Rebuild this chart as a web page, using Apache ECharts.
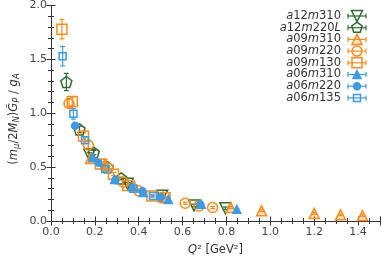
<!DOCTYPE html>
<html><head><meta charset="utf-8">
<script src="https://cdn.jsdelivr.net/npm/echarts@6/dist/echarts.min.js"></script>
<style>html,body{margin:0;padding:0;background:#fff}#c{width:382px;height:261px}</style>
</head><body><div id="c"></div>
<script>
// [Q2, value, error]
const a12m310  = [[0.175,0.615,0.02],[0.35,0.345,0.012],[0.507,0.235,0.01],[0.652,0.145,0.012],[0.795,0.118,0.012]];
const a12m220L = [[0.07,1.29,0.08],[0.13,0.85,0.03],[0.195,0.635,0.02],[0.258,0.50,0.015],[0.32,0.395,0.012]];
const a09m310  = [[0.18,0.58,0.03],[0.247,0.53,0.04],[0.38,0.32,0.015],[0.51,0.225,0.012],[0.82,0.125,0.01],[0.96,0.095,0.008],[1.2,0.07,0.008],[1.32,0.058,0.008],[1.42,0.05,0.008]];
const a09m220  = [[0.082,1.09,0.04],[0.17,0.705,0.03],[0.26,0.49,0.02],[0.33,0.36,0.015],[0.40,0.28,0.012],[0.612,0.165,0.01],[0.675,0.14,0.01],[0.737,0.125,0.01]];
const a09m130  = [[0.05,1.78,0.09],[0.097,1.11,0.04],[0.148,0.79,0.03],[0.225,0.53,0.02],[0.285,0.435,0.015],[0.35,0.33,0.012],[0.46,0.233,0.01],[0.52,0.215,0.01]];
const a06m310  = [[0.19,0.59,0.02],[0.29,0.385,0.012],[0.37,0.32,0.01],[0.42,0.265,0.01],[0.535,0.2,0.008],[0.685,0.155,0.008],[0.847,0.108,0.008]];
const a06m220  = [[0.11,0.885,0.02],[0.216,0.54,0.015],[0.293,0.378,0.012],[0.417,0.275,0.01],[0.50,0.22,0.008],[0.68,0.15,0.008]];
const a06m135  = [[0.053,1.53,0.09],[0.102,0.995,0.05],[0.155,0.75,0.03],[0.247,0.483,0.02],[0.376,0.30,0.012],[0.465,0.232,0.01]];

const names = ['a12m310','a12m220L','a09m310','a09m220','a09m130','a06m310','a06m220','a06m135'];
const xTicks = [0,1.5,0.2];
const yTicks = [0,2,0.5];

const GREEN='#2f6b2f', ORANGE='#ff8c1a', BLUE='#3d9be6';
const PENT='path://M0,-1L0.951,-0.309L0.588,0.809L-0.588,0.809L-0.951,-0.309Z';
const styles = [
  {d:a12m310, c:GREEN, sym:'triangle', rot:180, size:11, fill:'rgba(255,255,255,0)'},
  {d:a12m220L, c:GREEN, sym:PENT, rot:0, size:11, fill:'rgba(255,255,255,0)'},
  {d:a09m310, c:ORANGE, sym:'triangle', rot:0, size:10, fill:'rgba(255,140,26,0.25)'},
  {d:a09m220, c:ORANGE, sym:'circle', rot:0, size:10, fill:'rgba(255,255,255,0)'},
  {d:a09m130, c:ORANGE, sym:'rect', rot:0, size:10, fill:'rgba(255,255,255,0)'},
  {d:a06m310, c:BLUE, sym:'triangle', rot:0, size:8, fill:BLUE},
  {d:a06m220, c:BLUE, sym:'circle', rot:0, size:7, fill:BLUE},
  {d:a06m135, c:BLUE, sym:'rect', rot:0, size:7, fill:'rgba(255,255,255,0)'}
];

function errSeries(d,c){
  return {type:'custom', data:d, encode:{x:0,y:1}, z:2, silent:true,
    renderItem:function(params,api){
      const x=api.value(0), y=api.value(1), e=api.value(2);
      const p1=api.coord([x,y+e]), p2=api.coord([x,y-e]);
      const w=2.5, st={stroke:c,lineWidth:1.2};
      return {type:'group',children:[
        {type:'line',shape:{x1:p1[0],y1:p1[1],x2:p2[0],y2:p2[1]},style:st},
        {type:'line',shape:{x1:p1[0]-w,y1:p1[1],x2:p1[0]+w,y2:p1[1]},style:st},
        {type:'line',shape:{x1:p2[0]-w,y1:p2[1],x2:p2[0]+w,y2:p2[1]},style:st}
      ]};
    }};
}
const series=[];
styles.forEach((s,i)=>{
  series.push(errSeries(s.d,s.c));
  series.push({type:'scatter', name:names[i], data:s.d.map(p=>[p[0],p[1]]), symbol:s.sym, symbolRotate:s.rot, symbolSize:s.size, z:3+i,
    itemStyle:{color:s.fill, borderColor:s.c, borderWidth:1.5, opacity:1}});
});

// legend drawn with graphic elements
const graphics=[];
const lx0=341, ly0=16, ldy=11.7, LF=11.5;
function legendLabel(n){
  let out='';
  for(const ch of n){ out += /[0-9]/.test(ch) ? '{r|'+ch+'}' : '{i|'+ch+'}'; }
  return out;
}
styles.forEach((s,i)=>{
  const y=ly0+i*ldy;
  graphics.push({type:'text', x:lx0, y:y, style:{text:legendLabel(names[i]), align:'right', verticalAlign:'middle',
    rich:{r:{fontFamily:'DejaVu Sans',fontSize:LF,fill:'#333'}, i:{fontFamily:'DejaVu Sans',fontStyle:'italic',fontSize:LF,fill:'#333'}}}});
  const st={stroke:s.c,lineWidth:1.2};
  graphics.push({type:'line', shape:{x1:348,y1:y,x2:366,y2:y}, style:st});
  graphics.push({type:'line', shape:{x1:348,y1:y-2.5,x2:348,y2:y+2.5}, style:st});
  graphics.push({type:'line', shape:{x1:366,y1:y-2.5,x2:366,y2:y+2.5}, style:st});
  const r=s.size/2, cx=357;
  const ms={fill:s.fill, stroke:s.c, lineWidth:1.5};
  if(s.sym==='circle') graphics.push({type:'circle', shape:{cx:cx,cy:y,r:r}, style:ms, z:10});
  else if(s.sym==='rect') graphics.push({type:'rect', shape:{x:cx-r,y:y-r,width:2*r,height:2*r}, style:ms, z:10});
  else if(s.sym==='triangle'){
    const pts = s.rot===180 ? [[cx-r,y-r],[cx+r,y-r],[cx,y+r]] : [[cx,y-r],[cx+r,y+r],[cx-r,y+r]];
    graphics.push({type:'polygon', shape:{points:pts}, style:ms, z:10});
  } else {
    const pts=[]; for(let k=0;k<5;k++){const a=-Math.PI/2+k*2*Math.PI/5; pts.push([cx+r*Math.cos(a), y+r*Math.sin(a)]);}
    graphics.push({type:'polygon', shape:{points:pts}, style:ms, z:10});
  }
});
// y axis title
const TF=11.5, SF=8.5;
graphics.push({type:'text', x:14, y:119, rotation:Math.PI/2, style:{
  text:'{n|(}{i|m}{s|μ}{n|/2}{i|M}{si|N}{n|)}{i|G̃}{si|P}{n| / }{i|g}{si|A}',
  align:'center', verticalAlign:'middle',
  rich:{n:{fontFamily:'DejaVu Sans',fontSize:TF,fill:'#333'},
        i:{fontFamily:'DejaVu Sans',fontStyle:'italic',fontSize:TF,fill:'#333'},
        s:{fontFamily:'DejaVu Sans',fontStyle:'italic',fontSize:SF,fill:'#333',padding:[5,0,0,0]},
        si:{fontFamily:'DejaVu Sans',fontStyle:'italic',fontSize:SF,fill:'#333',padding:[5,0,0,0]}}}});

const minor = n => ({show:true,splitNumber:n,length:3,lineStyle:{color:'#333',width:1,opacity:1}});
const axCommon={axisLine:{show:true,lineStyle:{color:'#333',width:1}}, splitLine:{show:false}, minorSplitLine:{show:false},
  axisTick:{show:true,inside:true,length:4.5,lineStyle:{color:'#333',width:1}}};
const fmt=v=>v.toFixed(1);
const option={
  animation:false,
  grid:{left:51,right:2,top:5.5,bottom:36.7},
  xAxis:[
    Object.assign({type:'value',position:'bottom',min:xTicks[0],max:xTicks[1],interval:xTicks[2],
      axisLabel:{formatter:fmt,fontFamily:'DejaVu Sans',fontSize:11,color:'#444',margin:6,showMaxLabel:false},
      name:'{i|Q}{n|² [GeV²]}',nameLocation:'middle',nameGap:23,
      nameTextStyle:{rich:{i:{fontFamily:'DejaVu Sans',fontStyle:'italic',fontSize:TF,color:'#333'},n:{fontFamily:'DejaVu Sans',fontSize:TF,color:'#333'}}}},axCommon,
      {minorTick:minor(4)}),
    Object.assign({type:'value',position:'top',min:xTicks[0],max:xTicks[1],interval:xTicks[2],axisLabel:{show:false}},axCommon,
      {minorTick:minor(4)})
  ],
  yAxis:[
    Object.assign({type:'value',position:'left',min:yTicks[0],max:yTicks[1],interval:yTicks[2],
      axisLabel:{formatter:fmt,fontFamily:'DejaVu Sans',fontSize:11,color:'#444',margin:4}},axCommon,
      {minorTick:minor(5)}),
    Object.assign({type:'value',position:'right',min:yTicks[0],max:yTicks[1],interval:yTicks[2],axisLabel:{show:false}},axCommon,
      {minorTick:minor(5)})
  ],
  series:series,
  graphic:graphics
};
echarts.init(document.getElementById('c'),null,{renderer:'canvas'}).setOption(option);
</script></body></html>
